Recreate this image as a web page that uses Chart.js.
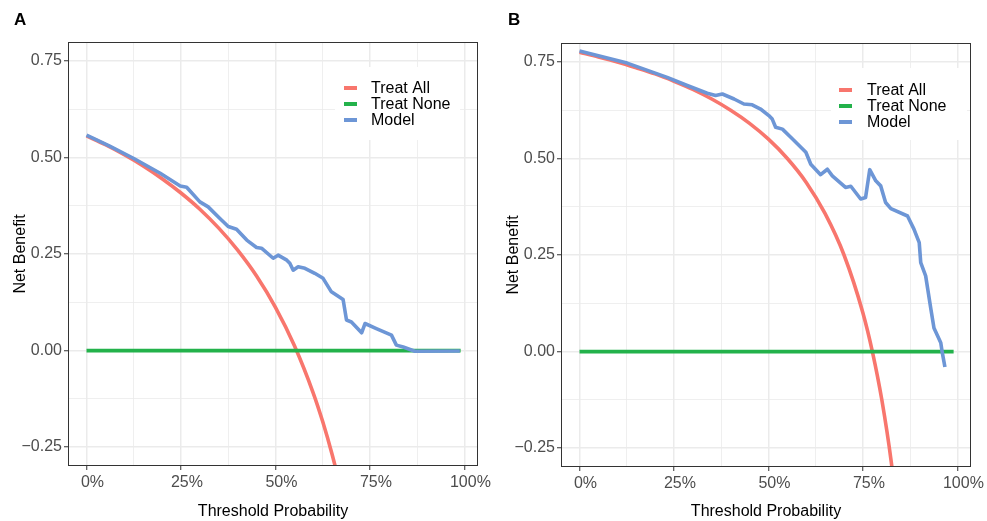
<!DOCTYPE html>
<html>
<head>
<meta charset="utf-8">
<script src="https://cdn.jsdelivr.net/npm/chart.js@4.4.1/dist/chart.umd.min.js"></script>
<style>
  html, body { margin: 0; padding: 0; background: #fff; }
  #wrap { position: relative; width: 987px; height: 521px; overflow: hidden; }
  #wrap canvas { position: absolute; top: 0; }
</style>
</head>
<body>
<div id="wrap">
  <canvas id="chartA" width="494" height="521" style="left:0"></canvas>
  <canvas id="chartB" width="493" height="521" style="left:494px"></canvas>
</div>
<script>
// -- data --
const seriesNames = ['Treat All', 'Treat None', 'Model'];

// panel A
const allAX = [0, 0.05, 0.10, 0.15, 0.20, 0.25, 0.30, 0.35, 0.40, 0.45, 0.50, 0.55, 0.60, 0.625, 0.65, 0.675];
const allAY = [0.556, 0.533, 0.507, 0.478, 0.445, 0.408, 0.366, 0.317, 0.260, 0.193, 0.112, 0.013, -0.110, -0.184, -0.269, -0.366];
const modelAX = [0, 0.06, 0.124, 0.195, 0.248, 0.265, 0.300, 0.322, 0.353, 0.375, 0.397, 0.424, 0.450, 0.463, 0.494, 0.507,
  0.530, 0.538, 0.547, 0.560, 0.578, 0.604, 0.626, 0.648, 0.679, 0.688, 0.701, 0.728, 0.737, 0.767, 0.807, 0.820, 0.838, 0.869, 0.988];
const modelAY = [0.558, 0.530, 0.498, 0.459, 0.426, 0.423, 0.385, 0.372, 0.342, 0.321, 0.314, 0.286, 0.267, 0.265, 0.239, 0.247,
  0.234, 0.226, 0.208, 0.217, 0.213, 0.200, 0.187, 0.152, 0.132, 0.079, 0.074, 0.046, 0.070, 0.057, 0.040, 0.014, 0.009, -0.002, -0.001];

// panel B
const allBX = [0, 0.05, 0.10, 0.15, 0.20, 0.25, 0.30, 0.35, 0.40, 0.45, 0.50, 0.55, 0.60, 0.65, 0.70, 0.75, 0.775, 0.80, 0.825, 0.85];
const allBY = [0.775, 0.763, 0.750, 0.735, 0.719, 0.700, 0.679, 0.654, 0.625, 0.591, 0.550, 0.500, 0.438, 0.357, 0.250, 0.100, 0.000, -0.125, -0.286, -0.500];
const modelBX = [0, 0.126, 0.232, 0.285, 0.338, 0.360, 0.378, 0.409, 0.435, 0.457, 0.479, 0.501, 0.510, 0.519, 0.537, 0.559,
  0.599, 0.612, 0.638, 0.656, 0.669, 0.704, 0.718, 0.744, 0.757, 0.768, 0.784, 0.797, 0.810, 0.824, 0.868, 0.885, 0.899,
  0.903, 0.916, 0.930, 0.938, 0.956, 0.960, 0.967];
const modelBY = [0.778, 0.747, 0.710, 0.689, 0.669, 0.663, 0.667, 0.654, 0.641, 0.639, 0.628, 0.611, 0.602, 0.581, 0.576, 0.555,
  0.516, 0.485, 0.458, 0.472, 0.455, 0.425, 0.428, 0.395, 0.399, 0.471, 0.442, 0.429, 0.386, 0.370, 0.351, 0.317, 0.282,
  0.230, 0.196, 0.109, 0.061, 0.023, -0.003, -0.040];

// treat none (both panels)
const noneX = [0, 0.99];
const noneY = [0, 0];

// axes
const xTicks = [0, 0.125, 0.25, 0.375, 0.5, 0.625, 0.75, 0.875, 1];
const xMajor = [0, 0.25, 0.5, 0.75, 1];
const xLabels = ['0%', '25%', '50%', '75%', '100%'];
const yTicks = [-0.25, -0.125, 0, 0.125, 0.25, 0.375, 0.5, 0.625, 0.75];
const yMajor = [-0.25, 0, 0.25, 0.5, 0.75];
const yLabels = ['\u22120.25', '0.00', '0.25', '0.50', '0.75'];

const colores = ['#F8766D', '#23B24B', '#6D96D6'];
const FONT = '"Liberation Sans", Arial, Helvetica, sans-serif';

function pares(xs, ys) {
  return xs.map((x, i) => ({ x, y: ys[i] }));
}

function isMajor(list, v) {
  return list.findIndex(m => Math.abs(m - v) < 1e-9);
}

// legenda, borda e letra do painel
const painelExtra = {
  id: 'painelExtra',
  afterDraw(chart, args, opts) {
    const { ctx, chartArea: a } = chart;
    const lg = opts.legend;
    ctx.save();
    ctx.fillStyle = '#fff';
    ctx.fillRect(lg.x, lg.y, lg.w, lg.h);
    ctx.font = '16px ' + FONT;
    ctx.textBaseline = 'middle';
    chart.data.datasets.forEach((ds, i) => {
      const y = lg.rows[i];
      ctx.strokeStyle = ds.borderColor;
      ctx.lineWidth = 4;
      ctx.beginPath();
      ctx.moveTo(lg.keyX, y);
      ctx.lineTo(lg.keyX + 13, y);
      ctx.stroke();
      ctx.fillStyle = '#000';
      ctx.fillText(ds.label, lg.textX, y + 0.5);
    });
    ctx.strokeStyle = '#333';
    ctx.lineWidth = 1;
    ctx.strokeRect(a.left + 0.5, a.top + 0.5, a.right - a.left - 1, a.bottom - a.top - 1);
    ctx.fillStyle = '#000';
    ctx.font = 'bold 17px ' + FONT;
    ctx.fillText(opts.tag, opts.tagX, opts.tagY);
    ctx.restore();
  }
};

function criarPainel(id, allX, allY, modelX, modelY, cfg) {
  const ctx = document.getElementById(id).getContext('2d');
  return new Chart(ctx, {
    type: 'line',
    data: {
      datasets: [
        {
          label: seriesNames[0], data: pares(allX, allY), borderColor: colores[0], borderWidth: 3.6,
          pointRadius: 0, cubicInterpolationMode: 'monotone', order: 3, clip: 0
        },
        {
          label: seriesNames[1], data: pares(noneX, noneY), borderColor: colores[1], borderWidth: 3.8,
          pointRadius: 0, order: 2, clip: 0
        },
        {
          label: seriesNames[2], data: pares(modelX, modelY), borderColor: colores[2], borderWidth: 3.6,
          pointRadius: 0, borderJoinStyle: 'round', borderCapStyle: 'butt', order: 1, clip: 0
        }
      ]
    },
    options: {
      responsive: false,
      animation: false,
      devicePixelRatio: 1,
      layout: { padding: { left: 0, top: cfg.top, right: cfg.right, bottom: 0 } },
      plugins: {
        legend: { display: false },
        tooltip: { enabled: false },
        painelExtra: { legend: cfg.legend, tag: cfg.tag, tagX: 14, tagY: 20.5 }
      },
      scales: {
        x: {
          type: 'linear',
          min: -0.049, max: 1.036,
          afterFit: s => { s.height = cfg.xHeight; },
          afterBuildTicks: s => { s.ticks = xTicks.map(v => ({ value: v })); },
          ticks: {
            autoSkip: false, maxRotation: 0, padding: 3, labelOffset: 6,
            color: '#4d4d4d', font: { family: FONT, size: 16 },
            callback: v => { const i = isMajor(xMajor, v); return i >= 0 ? xLabels[i] : ''; }
          },
          grid: {
            color: '#ebebeb',
            lineWidth: c => isMajor(xMajor, c.tick.value) >= 0 ? 1.5 : 0.8,
            tickLength: 4, tickWidth: 1,
            tickColor: c => isMajor(xMajor, c.tick.value) >= 0 ? '#333' : 'rgba(0,0,0,0)'
          },
          border: { display: false },
          title: {
            display: true, text: 'Threshold Probability', color: '#000',
            font: { family: FONT, size: 16 }, padding: { top: 0, bottom: 0 }
          }
        },
        y: {
          type: 'linear',
          min: -0.299, max: 0.799,
          afterFit: s => { s.width = cfg.yWidth; },
          afterBuildTicks: s => { s.ticks = yTicks.map(v => ({ value: v })); },
          ticks: {
            autoSkip: false, padding: 2,
            color: '#4d4d4d', font: { family: FONT, size: 16 },
            callback: v => { const i = isMajor(yMajor, v); return i >= 0 ? yLabels[i] : ''; }
          },
          grid: {
            color: '#ebebeb',
            lineWidth: c => isMajor(yMajor, c.tick.value) >= 0 ? 1.5 : 0.8,
            tickLength: 4, tickWidth: 1,
            tickColor: c => isMajor(yMajor, c.tick.value) >= 0 ? '#333' : 'rgba(0,0,0,0)'
          },
          border: { display: false },
          title: {
            display: true, text: 'Net Benefit', color: '#000',
            font: { family: FONT, size: 16 }, padding: { top: cfg.yTitlePad, bottom: 0 }
          }
        }
      }
    },
    plugins: [painelExtra]
  });
}

criarPainel('chartA', allAX, allAY, modelAX, modelAY, {
  tag: 'A', top: 42, right: 16, xHeight: 55, yWidth: 68, yTitlePad: 11,
  legend: { x: 335, y: 67, w: 125, h: 73, keyX: 344, textX: 371, rows: [88, 104, 120] }
});

criarPainel('chartB', allBX, allBY, modelBX, modelBY, {
  tag: 'B', top: 43, right: 16, xHeight: 54, yWidth: 67, yTitlePad: 9.5,
  legend: { x: 337, y: 68, w: 136, h: 72, keyX: 345, textX: 373, rows: [90, 106, 122] }
});
</script>
</body>
</html>
